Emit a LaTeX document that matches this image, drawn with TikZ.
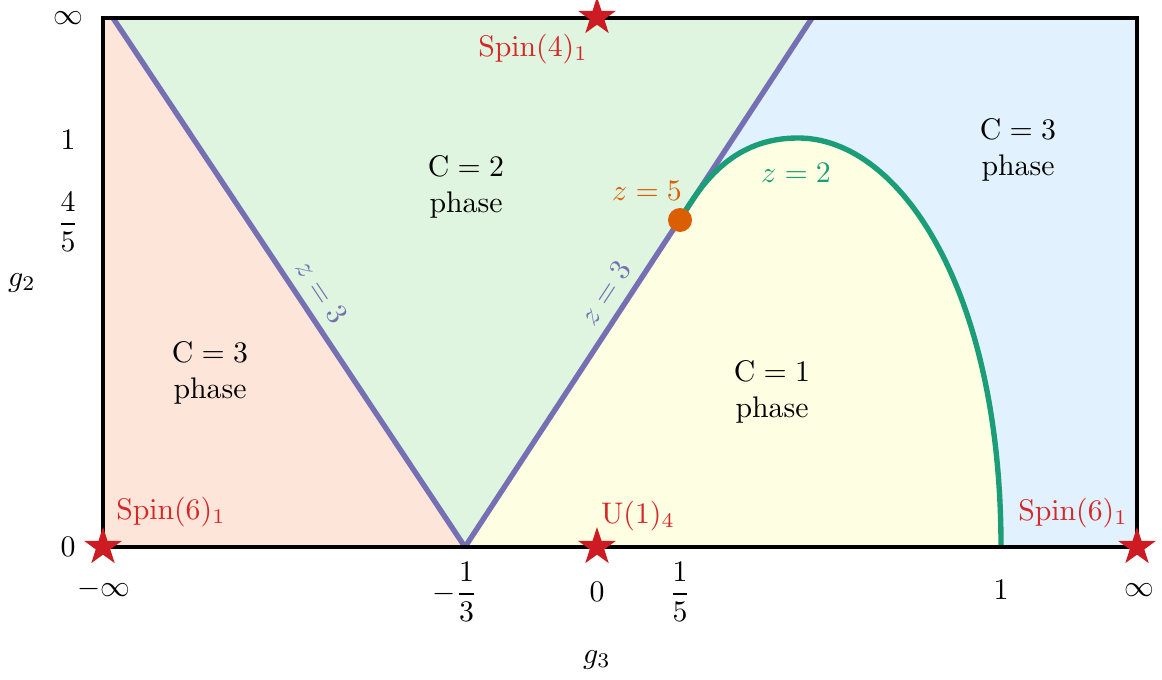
\documentclass[tikz,border=0pt]{standalone}
\usepackage{amsmath}
\usetikzlibrary{shapes.geometric, positioning}
\definecolor{linepurple}{RGB}{117,112,179}
\definecolor{curvegreen}{RGB}{27,158,119}
\definecolor{dotorange}{RGB}{217,95,2}
\definecolor{starred}{RGB}{204,27,34}
\definecolor{labelred}{RGB}{214,39,40}
\definecolor{fillpeach}{RGB}{253,229,217}
\definecolor{fillgreen}{RGB}{223,245,223}
\definecolor{fillblue}{RGB}{225,241,253}
\definecolor{fillyellow}{RGB}{254,254,226}

\begin{document}
\begin{tikzpicture}[
  x=0.0118cm, y=-0.0118cm,
  every node/.style={font=\normalsize},
  phase/.style={align=center},
  boundary/.style={draw=linepurple, line width=1.8pt},
  crit/.style={star, star points=5, star point ratio=2.6, fill=starred, inner sep=0pt, minimum size=0.47cm},
  critlabel/.style={text=labelred}
]
\useasboundingbox (0,0) rectangle (1162,679);

% Corners and vertices
\coordinate (bl) at (103,547);
\coordinate (br) at (1137,547);
\coordinate (tr) at (1137,18);
\coordinate (tl) at (103,18);
\coordinate (ltop) at (113,18);
\coordinate (rtop) at (812,18);
\coordinate (vtip) at (465,547);
\coordinate (zfive) at (680,220);
\coordinate (peak) at (798,138);
\coordinate (cend) at (1001,547);

% Phase regions
\fill[fillpeach] (tl) -- (ltop) -- (vtip) -- (bl) -- cycle;
\fill[fillgreen] (ltop) -- (rtop) -- (vtip) -- cycle;
\fill[fillblue] (rtop) -- (tr) -- (br) -- (cend) .. controls (1001,290) and (900,138) .. (peak)
  .. controls (735,138) and (703,180) .. (zfive) -- cycle;
\fill[fillyellow] (vtip) -- (zfive) .. controls (703,180) and (735,138) .. (peak)
  .. controls (900,138) and (1001,290) .. (cend) -- cycle;

% Transition lines
\draw[boundary] (ltop) -- node[pos=0.54, sloped, above, text=linepurple] {$z=3$} (vtip);
\draw[boundary] (vtip) -- node[pos=0.457, sloped, above, text=linepurple] {$z=3$} (rtop);
\draw[curvegreen, line width=1.8pt] (zfive) .. controls (703,180) and (735,138) .. (peak)
  .. controls (900,138) and (1001,290) .. (cend);
\draw[line width=1.2pt] (bl) rectangle (tr);
\fill[dotorange] (zfive) circle (12);

% Phase labels
\node[phase] (ctwo) at (466,187) {$\mathrm{C}=2$\\phase};
\node[phase] (cthreeleft) at (210,373) {$\mathrm{C}=3$\\phase};
\node[phase] (cthreeright) at (1018,150) {$\mathrm{C}=3$\\phase};
\node[phase] (cone) at (772,392) {$\mathrm{C}=1$\\phase};
\node[text=dotorange] (zfivelabel) at (647,191) {$z=5$};
\node[text=curvegreen] (ztwolabel) at (796,173) {$z=2$};

% Critical points
\node[crit] (spinfour) at (597,17) {};
\node[crit] (spinsixl) at (103,547) {};
\node[crit] (uone) at (597,547) {};
\node[crit] (spinsixr) at (1137,547) {};
\node[critlabel] (spinfourlabel) at (533,49) {$\mathrm{Spin}(4)_1$};
\node[critlabel] (spinsixllabel) at (171,512) {$\mathrm{Spin}(6)_1$};
\node[critlabel] (uonelabel) at (638,516) {$\mathrm{U}(1)_4$};
\node[critlabel] (spinsixrlabel) at (1073,513) {$\mathrm{Spin}(6)_1$};

% Axis ticks
\node (yinf) at (68,18) {$\infty$};
\node (yone) at (68,140) {$1$};
\node (yfourfifth) at (68,222) {$\dfrac{4}{5}$};
\node (yzero) at (68,547) {$0$};
\node (gtwo) at (22,283) {$g_2$};
\node (xminf) at (104,589) {$-\infty$};
\node (xthird) at (455,592) {$-\dfrac{1}{3}$};
\node (xzero) at (597,592) {$0$};
\node (xfifth) at (680,592) {$\dfrac{1}{5}$};
\node (xone) at (1001,590) {$1$};
\node (xinf) at (1139,590) {$\infty$};
\node (gthree) at (597,660) {$g_3$};

\end{tikzpicture}
\end{document}
